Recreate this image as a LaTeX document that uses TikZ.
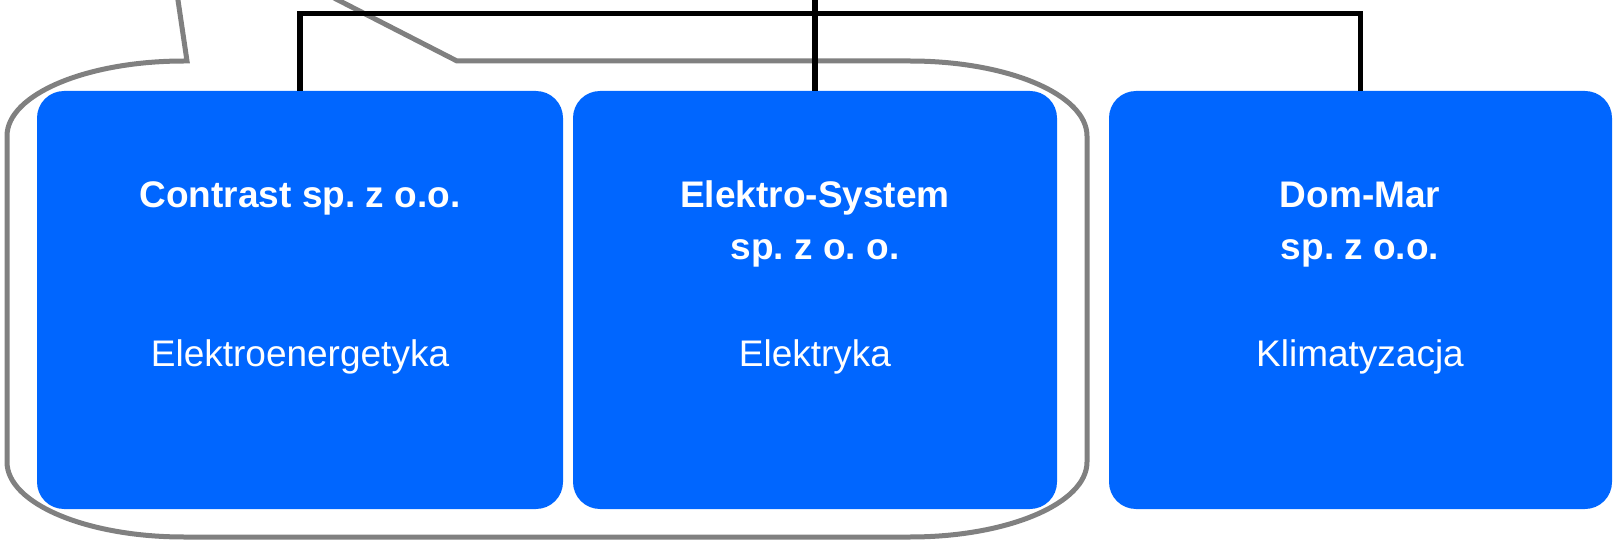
\documentclass[tikz,border=0pt]{standalone}
\usepackage{fontspec}
\setmainfont{Liberation Sans}
\frenchspacing
\definecolor{boxblue}{HTML}{0066FF}
\definecolor{callgray}{HTML}{808080}
\begin{document}
\begin{tikzpicture}[x=0.5pt,y=-0.5pt,
  company/.style={fill=boxblue, draw=none, rounded corners=13.5pt, inner sep=0pt},
  title/.style={text=white, font=\fontsize{18.5pt}{22pt}\selectfont\bfseries, anchor=base, inner sep=0pt},
  sector/.style={text=white, font=\fontsize{18.5pt}{22pt}\selectfont, anchor=base, inner sep=0pt},
  link/.style={draw=black, line width=2.7pt},
  bubble/.style={draw=callgray, line width=2.5pt, line join=miter}]
\useasboundingbox (0,0) rectangle (1614,540);
\clip (0,0) rectangle (1614,540);

% callout outline
\draw[bubble] (299,-20) -- (457,61) -- (910,61)
  .. controls (1007.8,61) and (1087,94.6) .. (1087,136) -- (1087,462)
  .. controls (1087,503.4) and (1007.8,537) .. (910,537) -- (184,537)
  .. controls (86.2,537) and (7,503.4) .. (7,462) -- (7,136)
  .. controls (7,94.6) and (86.2,61) .. (184,61) -- (187,61) -- (175,-20);

% boxes
\node[company, minimum width=263pt, minimum height=209pt] (b1) at (300,300) {};
\node[company, minimum width=242pt, minimum height=209pt] (b2) at (815,300) {};
\node[company, minimum width=251.5pt, minimum height=209pt] (b3) at (1360.5,300) {};

% connectors
\coordinate (parent) at (815,-20);
\coordinate (bar) at (815,13.5);
\draw[link] (b1.north) |- (bar) -| (b3.north);
\draw[link] (b2.north) -- (parent);

% texts
\node[title] (t1) at (300,207) {Contrast sp. z o.o.};
\node[sector] (s1) at (300,366) {Elektroenergetyka};
\node[title] (t2a) at (815,207) {Elektro-System};
\node[title] (t2b) at (815,260) {sp. z o. o.};
\node[sector] (s2) at (815,366) {Elektryka};
\node[title] (t3a) at (1360,207) {Dom-Mar};
\node[title] (t3b) at (1360,260) {sp. z o.o.};
\node[sector] (s3) at (1360,366) {Klimatyzacja};
\end{tikzpicture}
\end{document}
